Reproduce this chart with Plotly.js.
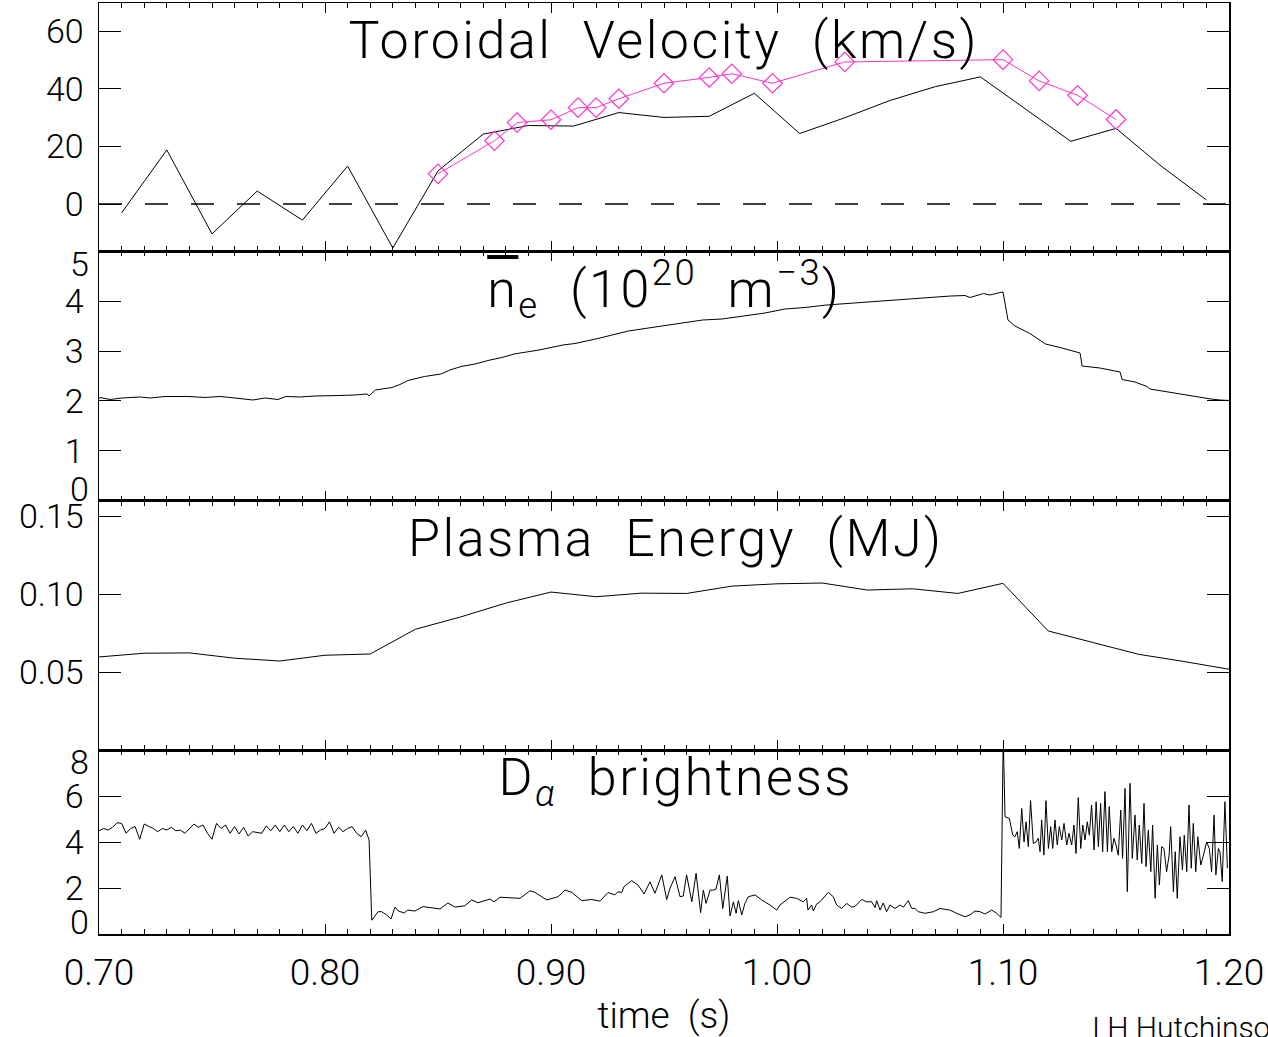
<!DOCTYPE html>
<html>
<head>
<meta charset="utf-8">
<script src="https://cdn.plot.ly/plotly-3.0.1.min.js"></script>
<style>html,body{margin:0;padding:0;background:#fff;}</style>
</head>
<body>
<div id="chart" style="width:1268px;height:1037px;"></div>
<script>
// ---------- Toroidal velocity (km/s) ----------
const velTime = [0.71,0.73,0.75,0.77,0.79,0.81,0.83,0.85,0.87,0.89,0.91,0.93,0.95,0.97,0.99,1.01,1.03,1.05,1.07,1.09,1.11,1.13,1.15,1.17,1.19];
const velValue = [-3.1,18.8,-10.4,4.5,-5.6,13.2,-15.3,11.5,24.3,27.3,27.1,31.8,30.1,30.5,38.5,24.5,30.0,36.0,40.8,44.2,33.0,21.8,26.3,13.2,1.4];
const velPinkTime = [0.850,0.875,0.885,0.900,0.912,0.920,0.930,0.950,0.970,0.980,0.998,1.030,1.100,1.116,1.133,1.150];
const velPinkValue = [10.5,22.0,28.3,29.3,33.5,33.5,36.6,42.0,44.0,45.3,42.0,49.4,50.2,42.8,37.8,29.4];

// ---------- Line-averaged density (1e20 m^-3) ----------
const neTime = [0.7000,0.7004,0.7049,0.7102,0.7181,0.7226,0.7292,0.7394,0.7469,0.7535,0.7580,0.7646,0.7681,0.7735,0.7792,0.7827,0.7889,0.7956,0.8007,0.8066,0.8133,0.8186,0.8195,0.8223,0.8296,0.8332,0.8367,0.8440,0.8513,0.8553,0.8602,0.8664,0.8730,0.8783,0.8836,0.8894,0.8947,0.9000,0.9053,0.9106,0.9164,0.9217,0.9270,0.9343,0.9416,0.9487,0.9571,0.9671,0.9757,0.9854,0.9947,1.0035,1.0124,1.0219,1.0310,1.0403,1.0491,1.0584,1.0677,1.0768,1.0832,1.0854,1.0914,1.0942,1.0987,1.1000,1.1022,1.1053,1.1119,1.1188,1.1252,1.1335,1.1341,1.1350,1.1429,1.1518,1.1527,1.1584,1.1637,1.1650,1.1746,1.1827,1.1920,1.1960,1.2000];
const neValue = [2.04,2.07,2.03,2.06,2.08,2.06,2.09,2.09,2.07,2.09,2.07,2.04,2.02,2.06,2.03,2.09,2.08,2.10,2.10,2.11,2.12,2.14,2.10,2.22,2.27,2.33,2.41,2.49,2.54,2.62,2.69,2.74,2.82,2.87,2.94,2.98,3.02,3.07,3.12,3.15,3.20,3.26,3.32,3.40,3.45,3.50,3.55,3.62,3.64,3.70,3.76,3.84,3.87,3.92,3.95,3.99,4.02,4.04,4.07,4.10,4.11,4.07,4.15,4.12,4.17,4.18,3.62,3.50,3.35,3.14,3.07,2.97,2.96,2.70,2.66,2.58,2.43,2.38,2.29,2.24,2.17,2.10,2.04,2.02,2.01];

// ---------- Plasma energy (MJ) ----------
const wTime = [0.70,0.72,0.74,0.76,0.78,0.80,0.82,0.84,0.86,0.88,0.90,0.92,0.94,0.96,0.98,1.00,1.02,1.04,1.06,1.08,1.10,1.12,1.14,1.16,1.18,1.20];
const wValue = [0.0598,0.0622,0.0624,0.0590,0.0572,0.0609,0.0617,0.0776,0.0855,0.0944,0.1015,0.0985,0.1008,0.1006,0.1053,0.1068,0.1073,0.1028,0.1036,0.1006,0.1071,0.0765,0.0690,0.0615,0.0569,0.0519];

// ---------- D-alpha brightness ----------
const daTime = [
0.700,0.702,0.704,0.706,0.708,0.710,0.712,0.714,0.716,0.718,
0.720,0.722,0.724,0.726,0.728,0.730,0.732,0.734,0.736,0.738,
0.740,0.742,0.744,0.746,0.748,0.750,0.752,0.754,0.756,0.758,
0.760,0.762,0.764,0.766,0.768,0.770,0.772,0.774,0.776,0.778,
0.780,0.782,0.784,0.786,0.788,0.790,0.792,0.794,0.796,0.798,
0.800,0.802,0.804,0.806,0.808,0.810,0.812,0.814,0.816,0.818,
0.8195,0.8207,
0.8235,0.8251,0.8273,0.8292,0.8310,0.8323,0.8350,0.8366,0.8398,0.8434,
0.8509,0.8544,0.8575,0.8619,0.8649,0.8677,0.8730,0.8748,0.8774,0.8863,
0.8907,0.8929,0.8981,0.9031,0.9062,0.9092,0.9136,0.9180,0.9217,0.9252,
0.9283,0.9296,0.9313,0.9323,0.9357,0.9385,0.9412,0.9438,0.9460,0.9490,
0.9512,0.9527,0.9549,0.9571,0.9585,0.9600,0.9623,0.9642,0.9662,0.9674,
0.9686,0.9704,0.9719,0.9730,0.9745,0.9760,0.9780,0.9792,0.9807,0.9819,
0.9829,0.9844,0.9858,0.9873,0.9903,0.9932,0.9969,0.9999,1.0013,1.0058,
1.0087,1.0116,1.0131,1.0137,1.0153,1.0161,1.0175,1.0190,1.0227,1.0249,
1.0264,1.0286,1.0308,1.0330,1.0345,1.0375,1.0397,1.0419,1.0434,1.0441,
1.0456,1.0470,1.0485,1.0500,1.0522,1.0544,1.0559,1.0581,1.0596,1.0611,
1.0625,1.0655,1.0692,1.0721,1.0765,1.0795,1.0832,1.0854,1.0876,1.0898,
1.0920,1.0950,1.0972,1.0991,1.1001,1.1009,
1.1028,1.1043,1.1053,1.1063,1.1072,1.1083,1.1093,1.1102,1.1112,1.1122,
1.1134,1.1146,1.1156,1.1164,1.1171,1.1181,1.1190,1.1201,1.1211,1.1220,
1.1230,1.1240,1.1249,1.1260,1.1270,1.1282,1.1292,1.1304,1.1314,1.1323,
1.1333,1.1344,1.1353,1.1363,1.1373,1.1382,1.1392,1.1403,1.1412,1.1422,
1.1432,1.1441,1.1451,1.1462,1.1470,1.1481,1.1491,1.1500,1.1510,1.1521,
1.1529,1.1540,1.1550,1.1562,1.1572,1.1584,1.1594,1.1603,1.1614,1.1624,
1.1633,1.1643,1.1654,1.1662,1.1673,1.1683,1.1692,1.1702,1.1712,1.1724,
1.1735,1.1742,1.1754,1.1762,1.1771,1.1783,1.1794,1.1802,1.1813,1.1823,
1.1833,1.1842,1.1853,1.1862,1.1875,1.1887,1.1901,1.1913,1.1923,1.1934,
1.1942,1.1953,1.1960,1.1970,1.1982,1.1993];
const daValue = [
4.49,4.59,4.52,4.64,4.84,4.81,4.38,4.59,4.67,4.12,
4.78,4.70,4.59,4.45,4.59,4.52,4.64,4.49,4.52,4.38,
4.59,4.78,4.64,4.74,4.38,4.12,4.81,4.59,4.74,4.38,
4.67,4.35,4.64,4.26,4.45,4.41,4.38,4.70,4.49,4.74,
4.45,4.74,4.45,4.67,4.38,4.74,4.49,4.81,4.38,4.52,
4.59,4.88,4.38,4.64,4.45,4.59,4.67,4.38,4.23,4.52,
4.09,0.60,
0.97,0.97,0.83,0.65,1.17,1.01,0.91,1.04,1.00,1.19,
1.09,1.35,1.17,1.23,1.48,1.36,1.52,1.40,1.60,1.55,
1.88,1.81,1.48,1.62,1.91,1.81,1.45,1.50,1.43,1.80,
1.70,1.84,1.80,2.06,2.32,2.13,1.74,2.27,1.77,2.57,
1.50,2.00,2.49,1.62,1.65,2.57,1.40,2.64,0.93,1.91,
1.33,1.91,1.91,1.95,2.57,1.11,2.52,0.78,1.40,0.90,
1.45,0.83,1.33,1.62,1.70,1.48,1.26,1.04,1.26,1.60,
1.55,1.40,1.55,1.04,1.26,1.00,1.30,1.40,1.81,1.62,
1.26,1.11,1.33,1.17,1.20,1.50,1.40,1.40,1.15,1.45,
1.04,1.35,0.97,1.26,1.11,1.26,1.17,1.45,1.11,1.11,
0.97,0.90,0.97,1.11,1.04,0.90,0.75,0.83,1.00,0.97,
0.87,1.04,0.90,0.72,8.60,5.10,
5.03,4.30,4.23,4.45,3.72,5.46,4.00,4.88,3.80,5.80,
3.94,4.00,4.16,3.58,4.96,3.43,5.80,3.72,4.67,3.72,
4.96,3.87,4.67,4.09,4.81,3.87,4.38,3.87,4.74,3.50,
5.93,3.72,4.74,4.09,4.88,4.30,5.61,3.65,5.75,3.80,
5.68,3.58,6.19,3.58,5.54,3.58,4.16,3.87,3.43,5.39,
3.29,6.33,1.84,6.55,3.29,5.17,3.22,4.74,3.07,5.68,
2.93,4.52,2.71,4.74,1.55,3.87,2.13,3.80,3.72,2.71,
3.43,4.67,1.84,3.58,1.55,4.23,2.78,4.30,2.71,5.61,
2.86,4.81,2.71,4.23,3.00,3.43,4.00,3.72,2.71,5.17,
2.57,3.72,3.58,2.28,5.75,2.86];

// ---------- axis ticks ----------
const timeTicks = [0.70,0.80,0.90,1.00,1.10,1.20];
const velTicks = [0,20,40,60];
const neTicks = [1,2,3,4];
const wTicks = [0.05,0.10,0.15];
const daTicks = [2,4,6];

const FONT = 'Roboto, "Liberation Sans", sans-serif';
const tickFont = {family: FONT, size: 34, color: '#000', weight: 300};

function xAxis(anchor, labels) {
  const a = {
    anchor: anchor, domain: [0, 1], range: [0.70, 1.20],
    tickmode: 'array', tickvals: timeTicks, tickformat: '.2f',
    ticks: 'inside', ticklen: 10, tickwidth: 1, tickcolor: '#000',
    minor: {ticks: 'inside', dtick: 0.01, tick0: 0.70, ticklen: 5, tickwidth: 1, tickcolor: '#000', showgrid: false},
    showline: true, linecolor: '#000', linewidth: 1.5, mirror: 'ticks',
    showgrid: false, zeroline: false, showticklabels: labels,
    tickfont: {family: FONT, size: 37, color: '#000', weight: 300}, fixedrange: true
  };
  if (!labels) a.matches = 'x';
  else {
    a.ticklabelstandoff = 5;
    a.title = {text: 'time  (s)', font: {family: FONT, size: 37, color: '#000', weight: 300}, standoff: 14};
  }
  return a;
}
function yAxis(anchor, domain, range, ticks, fmt) {
  return {
    anchor: anchor, domain: domain, range: range,
    tickmode: 'array', tickvals: ticks, tickformat: fmt,
    ticks: 'inside', ticklen: 22, tickwidth: 1, tickcolor: '#000',
    showline: true, linecolor: '#000', linewidth: 1.5, mirror: 'ticks',
    showgrid: false, zeroline: false, tickfont: tickFont, fixedrange: true,
    ticklabelstandoff: 7
  };
}

const pink = '#ff33cc';
const traces = [
  {x: velTime, y: velValue, xaxis: 'x2', yaxis: 'y', type: 'scatter', mode: 'lines',
   line: {color: '#000', width: 1}},
  {x: velPinkTime, y: velPinkValue, xaxis: 'x2', yaxis: 'y', type: 'scatter', mode: 'lines+markers',
   line: {color: pink, width: 1},
   marker: {symbol: 'diamond-open', size: 15, color: pink, line: {color: pink, width: 1.2}}},
  {x: neTime, y: neValue, xaxis: 'x3', yaxis: 'y2', type: 'scatter', mode: 'lines',
   line: {color: '#000', width: 1}},
  {x: wTime, y: wValue, xaxis: 'x4', yaxis: 'y3', type: 'scatter', mode: 'lines',
   line: {color: '#000', width: 1}},
  {x: daTime, y: daValue, xaxis: 'x', yaxis: 'y4', type: 'scatter', mode: 'lines',
   line: {color: '#000', width: 1}}
];

const titleFont = {family: FONT, size: 52, color: '#000', weight: 300};
const edgeFont = tickFont;

const layout = {
  width: 1268, height: 1037,
  margin: {l: 99, r: 39, t: 3, b: 103},
  paper_bgcolor: '#fff', plot_bgcolor: '#fff',
  showlegend: false,
  font: {family: FONT, color: '#000'},
  xaxis: xAxis('y4', true),
  xaxis2: xAxis('y', false),
  xaxis3: xAxis('y2', false),
  xaxis4: xAxis('y3', false),
  yaxis: yAxis('x2', [0.7336, 1.0], [-16.35, 69.9], velTicks, 'd'),
  yaxis2: yAxis('x3', [0.4651, 0.7336], [0, 5], neTicks, 'd'),
  yaxis3: yAxis('x4', [0.1976, 0.4651], [0, 0.16], wTicks, '.2f'),
  yaxis4: yAxis('x', [0, 0.1976], [0, 8], daTicks, 'd'),
  shapes: [
    {type: 'line', xref: 'x2 domain', x0: 0, x1: 1, yref: 'y', y0: 0, y1: 0,
     line: {color: '#000', width: 1.5, dash: '23px,23px'}, layer: 'below'}
  ],
  annotations: [
    {text: 'Toroidal  Velocity  (km/s)', xref: 'paper', x: 0.5, yref: 'y domain', y: 0.85,
     xanchor: 'center', yanchor: 'middle', showarrow: false, font: titleFont},
    {text: '<span style="text-decoration:overline">n</span><sub>e</sub>  (10<sup>20</sup>  m<sup>\u22123</sup>)', xref: 'paper', x: 0.5, yref: 'y2 domain', y: 0.85,
     xanchor: 'center', yanchor: 'middle', showarrow: false, font: titleFont},
    {text: 'Plasma  Energy  (MJ)', xref: 'paper', x: 0.5106, yref: 'y3 domain', y: 0.85,
     xanchor: 'center', yanchor: 'middle', showarrow: false, font: titleFont},
    {text: 'D<sub><i>\u03b1</i></sub>  brightness', xref: 'paper', x: 0.5106, yref: 'y4 domain', y: 0.83,
     xanchor: 'center', yanchor: 'middle', showarrow: false, font: titleFont},
    // edge tick labels, nudged inside their panel as in the original
    {text: '5', xref: 'paper', x: 0, xanchor: 'right', xshift: -8, yref: 'y2', y: 5, yanchor: 'middle', yshift: -13, showarrow: false, font: edgeFont},
    {text: '0', xref: 'paper', x: 0, xanchor: 'right', xshift: -8, yref: 'y2', y: 0, yanchor: 'middle', yshift: 12, showarrow: false, font: edgeFont},
    {text: '8', xref: 'paper', x: 0, xanchor: 'right', xshift: -8, yref: 'y4', y: 8, yanchor: 'middle', yshift: -12, showarrow: false, font: edgeFont},
    {text: '0', xref: 'paper', x: 0, xanchor: 'right', xshift: -8, yref: 'y4', y: 0, yanchor: 'middle', yshift: 12, showarrow: false, font: edgeFont},
    {text: 'I H Hutchinson', xref: 'paper', x: 0.877, xanchor: 'left', yref: 'paper', y: -0.100, yanchor: 'middle',
     showarrow: false, font: {family: FONT, size: 30, color: '#000', weight: 300}}
  ]
};

Plotly.newPlot('chart', traces, layout, {displayModeBar: false, staticPlot: true}).then(function (gd) {
  // the original lettering is widely spaced
  [0, 1, 2, 3].forEach(function (i) {
    const t = gd.querySelector('g.annotation[data-index="' + i + '"] text.annotation-text');
    if (t) t.style.letterSpacing = '2.5px';
  });
});
</script>
</body>
</html>
